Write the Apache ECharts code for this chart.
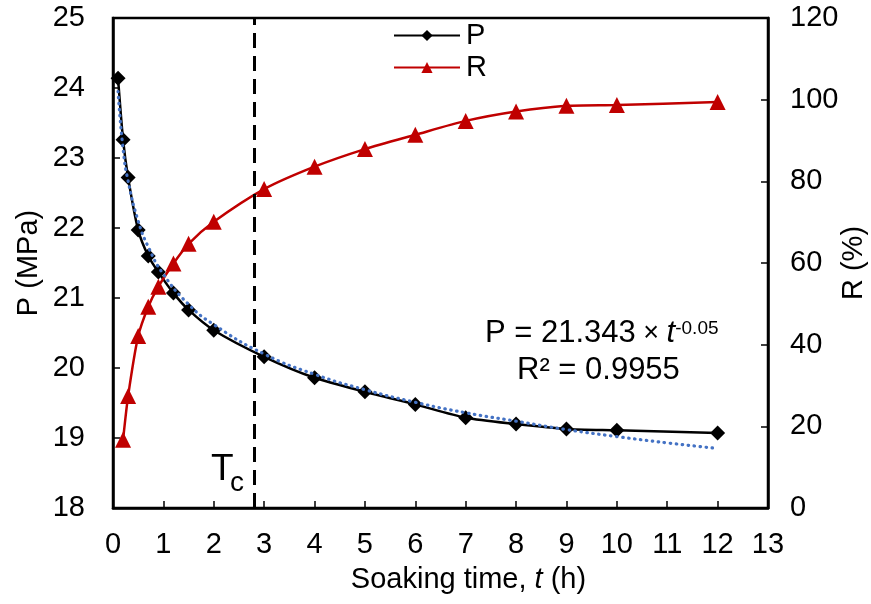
<!DOCTYPE html>
<html>
<head>
<meta charset="utf-8">
<script src="https://cdn.jsdelivr.net/npm/echarts@6/dist/echarts.min.js"></script>
<style>
html,body{margin:0;padding:0;background:#fff;}
#c{width:871px;height:604px;}
</style>
</head>
<body>
<div id="c"></div>
<script>
// ---- data ----
const tP = [0.1, 0.2, 0.3, 0.5, 0.7, 0.9, 1.2, 1.5, 2, 3, 4, 5, 6, 7, 8, 9, 10, 12];
const P  = [24.14, 23.26, 22.72, 21.97, 21.6, 21.37, 21.07, 20.83, 20.54, 20.16, 19.86, 19.66, 19.48, 19.29, 19.2, 19.13, 19.11, 19.07];
const tR = [0.2, 0.3, 0.5, 0.7, 0.9, 1.2, 1.5, 2, 3, 4, 5, 6, 7, 8, 9, 10, 12];
const R  = [16.7, 27.4, 42.1, 49.3, 54.2, 59.9, 64.7, 70.1, 78.1, 83.6, 87.9, 91.4, 94.8, 97.1, 98.5, 98.7, 99.4];
const tFit = [0.1, 0.2, 0.3, 0.5, 0.7, 1, 1.5, 2, 3, 4, 5, 6, 7, 8, 9, 10, 11, 12];
const PFit = [23.95, 23.13, 22.67, 22.10, 21.73, 21.34, 20.91, 20.62, 20.20, 19.91, 19.69, 19.51, 19.36, 19.24, 19.12, 19.02, 18.93, 18.85];
const Tc = 2.8;
const xTicks = {min: 0, max: 13, interval: 1};
const pTicks = {min: 18, max: 25, interval: 1};
const rTicks = {min: 0, max: 120, interval: 20};

const pairs = (xs, ys) => xs.map((x, i) => [x, ys[i]]);
const FONT = '"Liberation Sans", Arial, sans-serif';
const FS = 29;
const EQ = 31;

const chart = echarts.init(document.getElementById('c'), null, {renderer: 'canvas'});
const axisLine = {show: true, lineStyle: {color: '#000', width: 2.5}};
const axisTick = {show: true, inside: true, length: 7, lineStyle: {color: '#000', width: 1.5}};
const axisLabel = {color: '#000', fontSize: FS, fontFamily: FONT};

chart.setOption({
  animation: false,
  backgroundColor: '#fff',
  textStyle: {fontFamily: FONT},
  grid: {left: 113, right: 103, top: 18, bottom: 96, show: true, borderColor: '#000', borderWidth: 2.5,
         containLabel: false, outerBoundsMode: 'none'},
  legend: {
    data: ['P', 'R'],
    orient: 'vertical',
    left: 393, top: 21, padding: 0,
    itemWidth: 66, itemHeight: 14, itemGap: 3,
    textStyle: {color: '#000', fontSize: FS, fontFamily: FONT, padding: [0, 0, 0, 1]}
  },
  xAxis: {
    type: 'value', min: xTicks.min, max: xTicks.max, interval: xTicks.interval,
    axisLine, axisTick, splitLine: {show: false},
    axisLabel: Object.assign({margin: 22}, axisLabel),
    name: '{a|Soaking time, }{i|t}{a| (h)}',
    nameLocation: 'middle', nameGap: 57, nameMoveOverlap: false,
    nameTextStyle: {padding: [0, 0, 0, 56], rich: {
      a: {fontSize: FS, fontFamily: FONT, color: '#000'},
      i: {fontSize: FS, fontFamily: FONT, color: '#000', fontStyle: 'italic'}
    }}
  },
  yAxis: [{
    type: 'value', min: pTicks.min, max: pTicks.max, interval: pTicks.interval,
    axisLine, axisTick, splitLine: {show: false},
    axisLabel: Object.assign({margin: 28}, axisLabel),
    name: 'P (MPa)', nameLocation: 'middle', nameGap: 70, nameRotate: 90, nameMoveOverlap: false,
    nameTextStyle: {fontSize: FS, fontFamily: FONT, color: '#000'}
  }, {
    type: 'value', min: rTicks.min, max: rTicks.max, interval: rTicks.interval,
    position: 'right',
    axisLine, axisTick, splitLine: {show: false},
    axisLabel: Object.assign({margin: 22}, axisLabel),
    name: 'R (%)', nameLocation: 'middle', nameGap: 71, nameRotate: 90, nameMoveOverlap: false,
    nameTextStyle: {fontSize: FS, fontFamily: FONT, color: '#000'}
  }],
  series: [{
    name: 'P', type: 'line', yAxisIndex: 0,
    data: pairs(tP, P),
    smooth: 0.25,
    symbol: 'diamond', symbolSize: 15,
    lineStyle: {color: '#000', width: 2.5},
    itemStyle: {color: '#000'},
    z: 3,
    markLine: {
      silent: true, symbol: ['none', 'none'],
      label: {show: false},
      lineStyle: {color: '#000', width: 3, type: [15, 8]},
      data: [{xAxis: Tc}]
    }
  }, {
    name: 'R', type: 'line', yAxisIndex: 1,
    data: pairs(tR, R),
    smooth: 0.25,
    symbol: 'triangle', symbolSize: 16,
    lineStyle: {color: '#C00000', width: 2.5},
    itemStyle: {color: '#C00000'},
    z: 3
  }, {
    name: 'fit', type: 'line', yAxisIndex: 0,
    data: pairs(tFit, PFit),
    smooth: true, showSymbol: false, symbol: 'none',
    lineStyle: {color: '#4472C4', width: 3.2, type: [0.5, 5.5], cap: 'round'},
    z: 5
  }],
  graphic: [{
    type: 'text', left: 211, top: 451, z: 10,
    style: {text: 'T', fontSize: 37, fontFamily: FONT, fill: '#000'}
  }, {
    type: 'text', left: 230, top: 469, z: 10,
    style: {text: 'c', fontSize: 28, fontFamily: FONT, fill: '#000'}
  }, {
    type: 'text', left: 485, top: 318, z: 10,
    style: {
      text: '{a|P = 21.343}{x| × }{i|t}{s|-0.05}',
      rich: {
        a: {fontSize: EQ, fontFamily: FONT, fill: '#000'},
        x: {fontSize: EQ - 4, fontFamily: FONT, fill: '#000'},
        i: {fontSize: EQ, fontFamily: FONT, fill: '#000', fontStyle: 'italic'},
        s: {fontSize: 19, fontFamily: FONT, fill: '#000', padding: [0, 0, 9, 0]}
      }
    }
  }, {
    type: 'text', left: 517, top: 355, z: 10,
    style: {text: 'R² = 0.9955', fontSize: EQ, fontFamily: FONT, fill: '#000'}
  }]
});
</script>
</body>
</html>
